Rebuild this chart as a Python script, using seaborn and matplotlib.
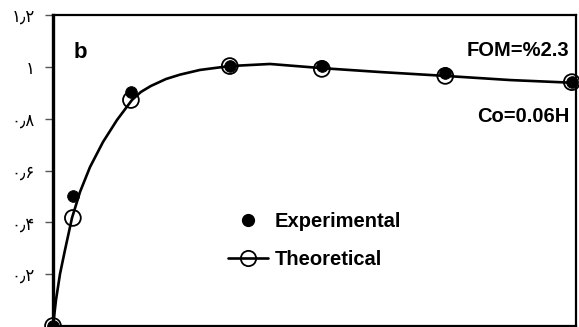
import matplotlib
matplotlib.use('Agg')
import matplotlib.pyplot as plt
from matplotlib.lines import Line2D
import pandas as pd
import seaborn as sns

# sample positions along the x axis (axis has no scale shown, 0..100)
x_points = [0, 3.8, 14.9, 33.8, 51.4, 75.0, 99.2]
experimental = [0.0, 0.50, 0.903, 1.003, 1.003, 0.976, 0.941]
theoretical = [0.0, 0.417, 0.872, 1.003, 0.992, 0.965, 0.941]

# theoretical curve
curve_x = [0, 0.57, 1.34, 2.29, 3.63, 5.16, 7.07, 9.56, 12.24, 15.1,
           16.8, 18.7, 21.6, 24.3, 28.1, 33.8, 41.5, 51.4, 62.5, 75.0,
           87.4, 100]
curve_y = [0.0, 0.100, 0.201, 0.293, 0.417, 0.517, 0.613, 0.710, 0.795, 0.872,
           0.903, 0.926, 0.953, 0.970, 0.988, 1.003, 1.011, 0.995, 0.980, 0.965,
           0.949, 0.938]

ytick_values = [0.2, 0.4, 0.6, 0.8, 1.0, 1.2]
ytick_labels = ['۰٫۲', '۰٫۴', '۰٫۶', '۰٫۸', '۱', '۱٫۲']

sns.set_style('white')
plt.rcParams['font.family'] = ['Liberation Sans', 'DejaVu Sans']
plt.rcParams['text.color'] = 'black'
plt.rcParams['ytick.labelcolor'] = 'black'

points = pd.DataFrame({'x': x_points, 'exp': experimental, 'theo': theoretical})
curve = pd.DataFrame({'x': curve_x, 'y': curve_y})

fig = plt.figure(figsize=(5.79, 3.27), dpi=100)
ax = fig.add_axes([53 / 579, 1 / 327, 523 / 579, 311 / 327])

sns.lineplot(data=curve, x='x', y='y', ax=ax, color='black', linewidth=1.9,
             sort=False, estimator=None)
sns.scatterplot(data=points, x='x', y='theo', ax=ax, marker='o', s=130,
                facecolor='none', edgecolor='black', linewidth=1.3, zorder=3,
                clip_on=False)
sns.scatterplot(data=points, x='x', y='exp', ax=ax, marker='o', s=70,
                color='black', edgecolor='black', zorder=4, clip_on=False)

ax.set_xlim(0, 100)
ax.set_ylim(0, 1.2)
ax.set_xticks([])
ax.set_yticks(ytick_values)
ax.set_yticklabels(ytick_labels, fontfamily='DejaVu Sans', fontsize=12,
                   color='black')
ax.tick_params(axis='y', direction='out', length=6, width=1, color='#555555',
               pad=7, left=True)
ax.set_xlabel('')
ax.set_ylabel('')
for side in ['top', 'right', 'bottom']:
    ax.spines[side].set_linewidth(1.6)
    ax.spines[side].set_color('black')
ax.spines['left'].set_linewidth(2.4)
ax.spines['left'].set_color('black')

ax.text(0.052, 0.88, 'b', transform=ax.transAxes, fontsize=16,
        fontweight='bold', ha='center', va='center', color='black')
ax.text(0.988, 0.885, 'FOM=%2.3', transform=ax.transAxes, fontsize=14.5,
        fontweight='bold', ha='right', va='center', color='black')
ax.text(0.988, 0.675, 'Co=0.06H', transform=ax.transAxes, fontsize=14.5,
        fontweight='bold', ha='right', va='center', color='black')

handles = [
    Line2D([], [], linestyle='none', marker='o', markersize=8.5,
           color='black'),
    Line2D([], [], color='black', linewidth=1.9, marker='o', markersize=11,
           markerfacecolor='none', markeredgewidth=1.3),
]
leg = ax.legend(handles, ['Experimental', 'Theoretical'], frameon=False,
                loc='upper left',
                bbox_to_anchor=((228 - 53) / 523, (326 - 212) / 311),
                prop={'weight': 'bold', 'size': 14.5}, handlelength=2.0,
                handletextpad=0.3, labelspacing=0.95, borderpad=0,
                borderaxespad=0)
for t in leg.get_texts():
    t.set_color('black')

fig.savefig('out.png', dpi=100)
